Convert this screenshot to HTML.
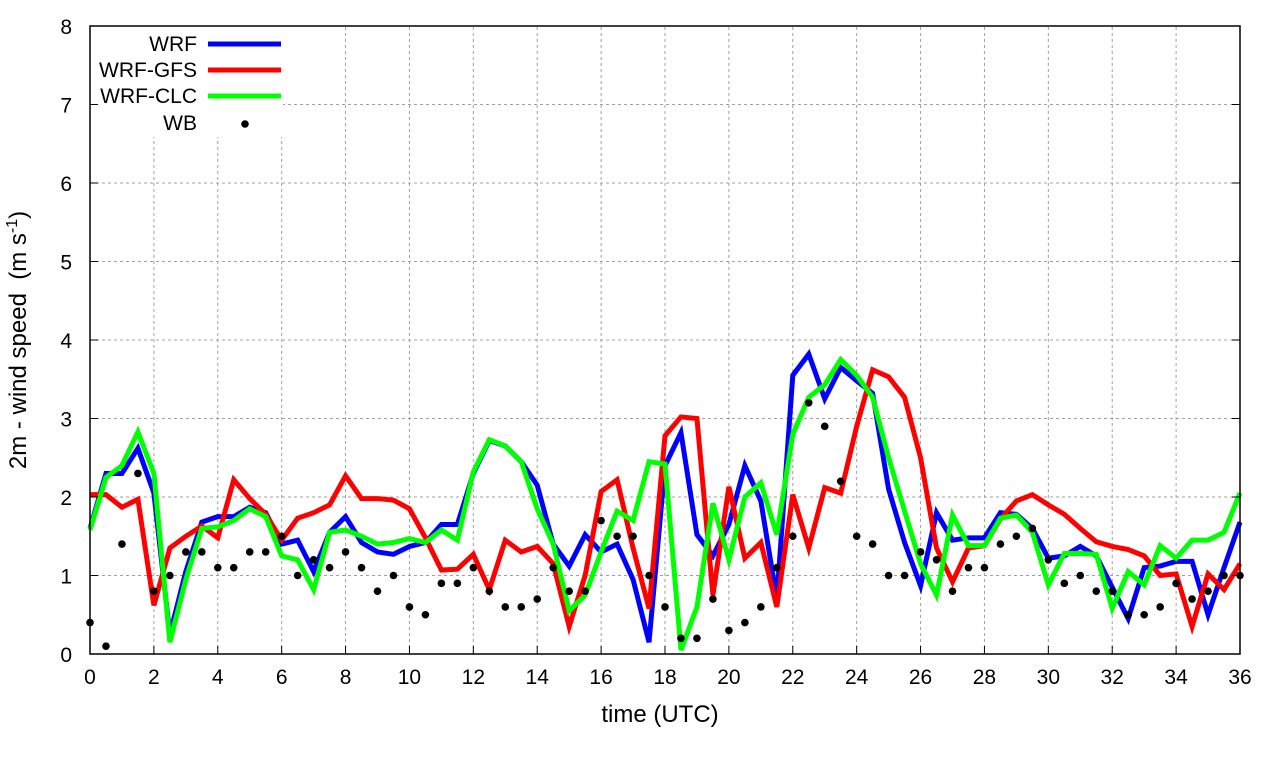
<!DOCTYPE html>
<html><head><meta charset="utf-8"><style>
body{margin:0;background:#fff;}
svg text{font-family:"Liberation Sans",sans-serif;fill:#000;}
</style></head><body>
<svg id="chart" width="1280" height="760" xmlns="http://www.w3.org/2000/svg">
<g id="grid"></g>
<g id="series"></g>
<rect x="91" y="27" width="192" height="110" fill="#fff"/>
<g id="legend"></g>
<rect x="90" y="26" width="1150" height="628" fill="none" stroke="#000" stroke-width="1.5"/>
<g id="axes"></g>
<text x="660" y="722" font-size="24" text-anchor="middle">time (UTC)</text>
<text transform="translate(26,340) rotate(-90)" font-size="24" text-anchor="middle">2m - wind speed&#160; (m s<tspan font-size="16" dy="-9">-1</tspan><tspan dy="9">)</tspan></text>
</svg>
<script>
const times = Array.from({length:73},(_, i)=>i*0.5);
const wrf = [1.6,2.3,2.3,2.62,2.05,0.25,1.05,1.68,1.75,1.75,1.87,1.8,1.4,1.45,1.05,1.55,1.75,1.42,1.3,1.27,1.37,1.42,1.65,1.65,2.3,2.72,2.65,2.45,2.15,1.4,1.12,1.52,1.3,1.4,0.95,0.15,2.4,2.82,1.52,1.25,1.65,2.4,1.95,0.7,3.55,3.82,3.25,3.65,3.48,3.32,2.1,1.42,0.87,1.8,1.45,1.48,1.48,1.8,1.78,1.6,1.22,1.25,1.37,1.25,0.85,0.45,1.1,1.12,1.18,1.18,0.5,1.1,1.68];
const wrfGfs = [2.03,2.03,1.87,1.97,0.62,1.35,1.5,1.63,1.48,2.22,1.98,1.78,1.45,1.73,1.8,1.9,2.27,1.98,1.98,1.96,1.85,1.48,1.07,1.08,1.27,0.82,1.45,1.3,1.37,1.15,0.35,1.0,2.07,2.22,1.35,0.58,2.78,3.02,3.0,0.75,2.13,1.22,1.42,0.6,2.03,1.35,2.12,2.05,2.9,3.62,3.53,3.27,2.5,1.35,0.92,1.35,1.38,1.72,1.95,2.03,1.9,1.78,1.6,1.43,1.37,1.33,1.25,1.0,1.02,0.35,1.02,0.82,1.15];
const wrfClc = [1.58,2.25,2.4,2.83,2.3,0.15,0.95,1.6,1.62,1.7,1.85,1.75,1.25,1.2,0.82,1.55,1.58,1.5,1.4,1.42,1.47,1.42,1.58,1.45,2.32,2.73,2.65,2.45,1.85,1.4,0.55,0.75,1.3,1.82,1.7,2.45,2.42,0.05,0.6,1.92,1.2,2.0,2.18,1.52,2.8,3.27,3.43,3.75,3.55,3.27,2.5,1.82,1.15,0.75,1.77,1.38,1.38,1.73,1.77,1.55,0.88,1.28,1.28,1.27,0.58,1.05,0.88,1.38,1.22,1.45,1.45,1.55,2.05];
const wb = [0.4,0.1,1.4,2.3,0.8,1.0,1.3,1.3,1.1,1.1,1.3,1.3,1.5,1.0,1.2,1.1,1.3,1.1,0.8,1.0,0.6,0.5,0.9,0.9,1.1,0.8,0.6,0.6,0.7,1.1,0.8,0.8,1.7,1.5,1.5,1.0,0.6,0.2,0.2,0.7,0.3,0.4,0.6,1.1,1.5,3.2,2.9,2.2,1.5,1.4,1.0,1.0,1.3,1.2,0.8,1.1,1.1,1.4,1.5,1.6,1.2,0.9,1.0,0.8,0.8,0.5,0.5,0.6,0.9,0.7,0.8,1.0,1.0];
const xTicks = [0,2,4,6,8,10,12,14,16,18,20,22,24,26,28,30,32,34,36];
const yTicks = [0,1,2,3,4,5,6,7,8];

const NS="http://www.w3.org/2000/svg";
const X0=90,X1=1240,Y0=654,Y1=26;
const xs=t=>X0+(t/36)*(X1-X0);
const ys=v=>Y0-(v/8)*(Y0-Y1);
function mk(tag,attrs,parent){const e=document.createElementNS(NS,tag);for(const k in attrs)e.setAttribute(k,attrs[k]);parent.appendChild(e);return e;}
const grid=document.getElementById('grid'),axes=document.getElementById('axes'),series=document.getElementById('series'),legend=document.getElementById('legend');
xTicks.forEach(t=>{
  const x=xs(t);
  if(t>0&&t<36){const g=mk('line',{x1:x,x2:x,y1:Y0,y2:Y1,stroke:'#a0a0a0','stroke-dasharray':'3,3','stroke-width':1},grid);
  
  }
  const tk=mk('line',{x1:x,x2:x,y1:Y0,y2:Y0-8,stroke:'#000'},axes);
  
  
  const tx=mk('text',{x:x,y:Y0+30,'font-size':21,'text-anchor':'middle'},axes);tx.textContent=t;
  
  
});
yTicks.forEach(v=>{
  const y=ys(v);
  if(v>0&&v<8){const g=mk('line',{x1:X0,x2:X1,y1:y,y2:y,stroke:'#a0a0a0','stroke-dasharray':'3,3','stroke-width':1},grid);
  
  }
  const tk=mk('line',{x1:X0,x2:X0+8,y1:y,y2:y,stroke:'#000'},axes);
  
  
  const tk2=mk('line',{x1:X1,x2:X1-8,y1:y,y2:y,stroke:'#000'},axes);
  
  
  const tx=mk('text',{x:X0-18,y:y+8,'font-size':21,'text-anchor':'end'},axes);tx.textContent=v;
  
  
});
const defs=[['WRF',wrf,'#0000ff'],['WRF-GFS',wrfGfs,'#ff0000'],['WRF-CLC',wrfClc,'#00ff00']];
defs.forEach(([name,vals,col])=>{
  const p=mk('polyline',{points:vals.map((v,i)=>xs(times[i])+','+ys(v)).join(' '),fill:'none',stroke:col,'stroke-width':5,'stroke-linejoin':'miter'},series);
  
  
});
wb.forEach((v,i)=>{
  const c=mk('circle',{cx:xs(times[i]),cy:ys(v),r:3.8,fill:'#000'},series);
  
  
});
const rows=[['WRF','#0000ff',43],['WRF-GFS','#ff0000',69],['WRF-CLC','#00ff00',95],['WB',null,122]];
rows.forEach(([n,col,y])=>{
  const tx=mk('text',{x:197,y:y+8,'font-size':21,'text-anchor':'end'},legend);tx.textContent=n;
  
  
  if(col){const l=mk('line',{x1:208,x2:281,y1:y+1,y2:y+1,stroke:col,'stroke-width':5},legend);
    
    }
  else{const c=mk('circle',{cx:245,cy:y+2,r:3.8,fill:'#000'},legend);
    
    }
});
</script>
</body></html>
